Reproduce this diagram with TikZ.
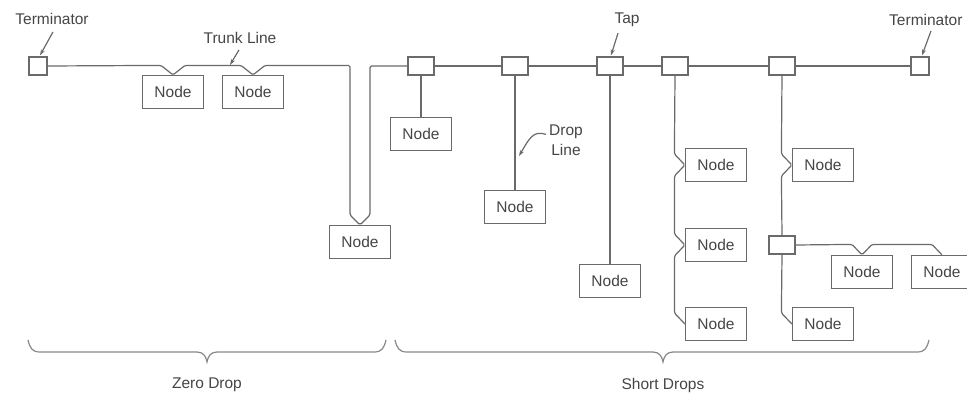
\documentclass[tikz,border=0pt]{standalone}
\usepackage{fontspec}
\setmainfont{Liberation Sans}
\usetikzlibrary{calc,arrows.meta}
\definecolor{ln}{HTML}{6A6A6A}
\definecolor{tx}{HTML}{454545}
\begin{document}
\begin{tikzpicture}[x=1pt,y=-1pt,
  box/.style={draw=ln, line width=1.2pt, minimum width=61pt, minimum height=33pt, inner sep=0pt, font=\fontsize{15.5}{18}\selectfont, text=tx, fill=white},
  tapbox/.style={draw=ln, line width=1.2pt, minimum width=26pt, minimum height=18pt, inner sep=0pt, fill=white},
  termbox/.style={draw=ln, line width=1.2pt, minimum width=18pt, minimum height=18pt, inner sep=0pt, fill=white},
  lbl/.style={font=\fontsize{15.5}{20}\selectfont, text=tx, inner sep=0pt},
  wire/.style={draw=ln, line width=1.2pt, rounded corners=1.5pt},
  ptr/.style={draw=ln, line width=1.2pt, -{Stealth[length=6pt,width=4pt]}},
  brc/.style={draw=ln!80, line width=1.2pt}]
\useasboundingbox (0,0) rectangle (967,405);

% terminators and taps
\node[termbox] (tL) at (38,66) {};
\node[termbox] (tR) at (920,66) {};
\node[tapbox] (p1) at (421,66) {};
\node[tapbox] (p2) at (515,66) {};
\node[tapbox] (p3) at (610,66) {};
\node[tapbox] (p4) at (675,66) {};
\node[tapbox] (p5) at (782,66) {};
\node[tapbox] (q) at (782,245) {};

% nodes
\node[box] (z1) at (173,92) {Node};
\node[box] (z2) at (253,92) {Node};
\node[box] (z3) at (360,242) {Node};
\node[box] (d1) at (421,134) {Node};
\node[box] (d2) at (515,207) {Node};
\node[box] (d3) at (610,281) {Node};
\node[box] (c1) at (716,165) {Node};
\node[box] (c2) at (716,245) {Node};
\node[box] (c3) at (716,324) {Node};
\node[box] (e1) at (823,165) {Node};
\node[box] (e3) at (823,324) {Node};
\node[box] (f1) at (862,272) {Node};
\node[box] (f2) at (942,272) {Node};

% trunk line
\draw[wire] (tL.east) -- ($(z1.north)+(-12,-9.5)$) -- (z1.north) -- ($(z1.north)+(12,-9.5)$)
  -- ($(z2.north)+(-12,-9.5)$) -- (z2.north) -- ($(z2.north)+(12,-9.5)$)
  -| ($(z3.north)+(-10,-10)$) -- (z3.north) -- ($(z3.north)+(10,-10)$) |- (p1.west);
\draw[wire] (p1.east) -- (p2.west);
\draw[wire] (p2.east) -- (p3.west);
\draw[wire] (p3.east) -- (p4.west);
\draw[wire] (p4.east) -- (p5.west);
\draw[wire] (p5.east) -- (tR.west);

% drops
\draw[wire] (p1.south) -- (d1.north);
\draw[wire] (p2.south) -- (d2.north);
\draw[wire] (p3.south) -- (d3.north);
\draw[wire] (p4.south) -- ($(c1.west)+(-10.5,-11)$) -- (c1.west) -- ($(c1.west)+(-10.5,11)$)
  -- ($(c2.west)+(-10.5,-11)$) -- (c2.west) -- ($(c2.west)+(-10.5,11)$)
  -- ($(c3.west)+(-10.5,-11)$) -- (c3.west);
\draw[wire] (p5.south) -- ($(e1.west)+(-10.5,-11)$) -- (e1.west) -- ($(e1.west)+(-10.5,11)$) -- (q.north);
\draw[wire] (q.south) -- ($(e3.west)+(-10.5,-11)$) -- (e3.west);
\draw[wire] (q.east) -- ($(f1.north)+(-10,-10.5)$) -- (f1.north) -- ($(f1.north)+(10,-10.5)$)
  -- ($(f2.north)+(-10,-10.5)$) -- (f2.north);

% labels with pointers
\node[lbl] (lTL) at (52,19) {Terminator};
\draw[ptr] ($(lTL.south)+(1,7)$) -- ($(tL.north)+(2,-1)$);
\node[lbl] (lTr) at (240,38) {Trunk Line};
\coordinate (trk) at (230,65);
\draw[ptr] ($(lTr.south)+(-1,6)$) -- (trk);
\node[lbl] (lTap) at (627,20) {Tap};
\draw[ptr] ($(lTap.south)+(-9,6)$) -- ($(p3.north)+(1,-1)$);
\node[lbl,anchor=west] (lTR) at (889,20) {Terminator};
\draw[ptr] ($(lTR.south west)+(42,5)$) -- ($(tR.north)+(2,-1)$);
\node[lbl,align=center] (lDL) at (566,140) {Drop\\Line};
\coordinate (dlt) at (519,156);
\draw[ptr] ($(lDL.north west)+(-3,10)$) .. controls (533,130) and (529,139) .. (dlt);

% braces
\draw[brc] (28,340) .. controls (30,348) and (32,352) .. (40,352) -- (197,352)
  .. controls (203,352) and (206,356) .. (207,362) .. controls (208,356) and (211,352) .. (217,352)
  -- (374,352) .. controls (382,352) and (384,348) .. (386,340);
\draw[brc] (395,340) .. controls (397,348) and (399,352) .. (407,352) -- (653,352)
  .. controls (659,352) and (662,356) .. (663,362) .. controls (664,356) and (667,352) .. (673,352)
  -- (917,352) .. controls (925,352) and (927,348) .. (929,340);
\node[lbl] (zd) at (207,385) {Zero Drop};
\node[lbl] (sd) at (663,385) {Short Drops};
\end{tikzpicture}
\end{document}
